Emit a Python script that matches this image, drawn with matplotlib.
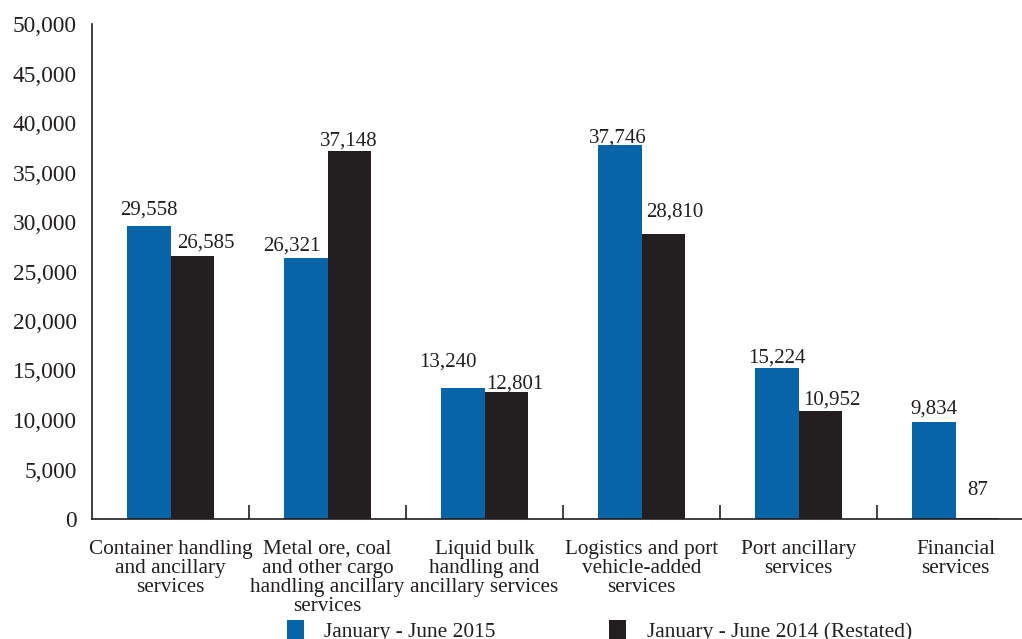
import matplotlib
matplotlib.use("Agg")
import matplotlib.pyplot as plt
from matplotlib.patches import Patch
import numpy as np

categories = [
    "Container handling\nand ancillary\nservices",
    "Metal ore, coal\nand other cargo\nhandling ancillary\nservices",
    "Liquid bulk\nhandling and\nancillary services",
    "Logistics and port\nvehicle-added\nservices",
    "Port ancillary\nservices",
    "Financial\nservices",
]
series_2015 = [29558, 26321, 13240, 37746, 15224, 9834]
series_2014 = [26585, 37148, 12801, 28810, 10952, 87]
series_names = ["January - June 2015", "January - June 2014 (Restated)"]
yticks = [0, 5000, 10000, 15000, 20000, 25000, 30000, 35000, 40000, 45000, 50000]

# label offsets in pixels (dx, dy) - styling only
off_2015 = [(0, 12), (-14, 8), (-15, 21), (-2, 3), (0, 6), (0, 8)]
off_2014 = [(14, 8), (0, 6), (9, 4), (12, 17), (12, 6), (0, 23)]

BLUE = "#0565a7"
DARK = "#231f20"

plt.rcParams['font.family'] = ['Liberation Serif', 'DejaVu Serif']
plt.rcParams['text.color'] = DARK

W, H = 1022, 639
fig = plt.figure(figsize=(W / 100, H / 100), dpi=100)
ax = fig.add_axes([92 / W, (H - 519) / H, 942 / W, 495 / H])

x = np.arange(len(categories))
bw = 0.277
b1 = ax.bar(x - bw / 2, series_2015, bw, color=BLUE, label=series_names[0])
b2 = ax.bar(x + bw / 2, series_2014, bw, color=DARK, label=series_names[1])

for bars, vals, offs in ((b1, series_2015, off_2015), (b2, series_2014, off_2014)):
    for r, v, (dx, dy) in zip(bars, vals, offs):
        ax.annotate(f"{v:,}", (r.get_x() + r.get_width() / 2, r.get_height()),
                    xytext=(dx, dy), textcoords="offset pixels",
                    ha="center", va="baseline", fontsize=15, color=DARK)

ax.set_xlim(-0.5, len(categories) - 0.5)
ax.set_ylim(0, 50000)
ax.set_yticks(yticks)
ax.set_yticklabels([f"{t:,}" for t in yticks], fontsize=16.8, color=DARK)
ax.tick_params(axis="y", length=0, pad=11)

ax.set_xticks(x)
ax.set_xticklabels(categories, fontsize=15.3, color=DARK, linespacing=1.0, va="top")
ax.tick_params(axis="x", which="major", length=0, pad=15)
ax.set_xticks(np.arange(len(categories) - 1) + 0.5, minor=True)
ax.tick_params(axis="x", which="minor", direction="in", length=10, width=1.2, color=DARK)

for s in ("top", "right"):
    ax.spines[s].set_visible(False)
for s in ("left", "bottom"):
    ax.spines[s].set_color(DARK)
    ax.spines[s].set_linewidth(1.2)

handles = [Patch(facecolor=BLUE, edgecolor="none"), Patch(facecolor=DARK, edgecolor="none")]
fig.legend(handles, series_names, loc="center left", bbox_to_anchor=(287 / W, 8 / H),
           ncol=2, frameon=False, fontsize=15.4, handlelength=0.8, handleheight=1.1,
           handletextpad=0.95, columnspacing=5.3, borderpad=0, borderaxespad=0)

fig.savefig("out.png", dpi=100)
